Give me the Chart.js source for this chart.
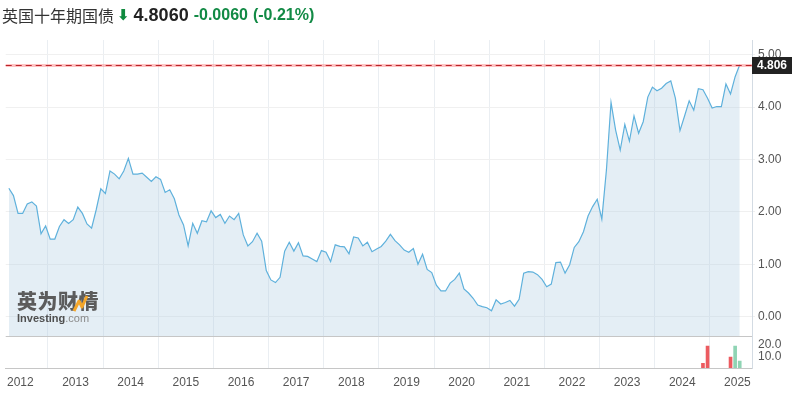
<!DOCTYPE html>
<html lang="zh-CN">
<head>
<meta charset="utf-8">
<title>英国十年期国债</title>
<script src="https://cdn.jsdelivr.net/npm/chart.js@4.4.1/dist/chart.umd.min.js"></script>
<style>
    html, body { margin: 0; padding: 0; background: #fff; }
    body { width: 792px; height: 396px; position: relative; overflow: hidden; }
    #chart { position: absolute; left: 0; top: 0; }
    .header {
        position: absolute; left: 2px; top: 3px; height: 22px; line-height: 22px;
        white-space: nowrap; font-family: 'Liberation Sans', Arial, sans-serif;
    }
    .header span { display: inline-block; vertical-align: middle; }
    .name { font-family: 'Noto Sans CJK SC', sans-serif; font-size: 16px; color: #333; }
    .arrow { font-family: 'DejaVu Sans', sans-serif; font-size: 15px; font-weight: bold; color: #0f8a3e; margin-left: 3px; }
    .last { font-size: 18px; font-weight: bold; color: #222; margin-left: 4px; }
    .chg { font-size: 16px; font-weight: bold; color: #128a45; margin-left: 5px; }
    .logo { position: absolute; left: 17px; top: 290px; pointer-events: none; }
    .logo .cn { font-family: 'Noto Sans CJK SC', sans-serif; font-weight: 900; font-size: 20px; color: #5c5c5c; letter-spacing: 0.5px; line-height: 22px; }
    .logo .en { font-family: 'Liberation Sans', Arial, sans-serif; font-size: 11px; line-height: 12px; color: #555; }
    .logo .en b { color: #4f4f4f; }
    .logo .en i { font-style: normal; color: #8a8a8a; }
    .logo svg { position: absolute; left: 0; top: 0; }
</style>
</head>
<body>
<canvas id="chart" width="792" height="396"></canvas>
<div class="header">
    <span class="name">英国十年期国债</span><span class="arrow">⬇</span><span class="last">4.8060</span><span class="chg">-0.0060</span><span class="chg">(-0.21%)</span>
</div>
<div class="logo">
    <div class="cn">英为财情</div>
    <div class="en"><b>Investing</b><i>.com</i></div>
    <svg width="100" height="30"><polyline points="57,21 62,11 65,17 70,6" fill="none" stroke="#f4a62a" stroke-width="3" stroke-linejoin="round"/></svg>
</div>
<script>
// monthly closes, first point Oct 2011
const startYear = 2011;
const startMonth = 10;
const yields = [
    2.45, 2.31, 1.97,
    1.97, 2.15, 2.19, 2.11, 1.58, 1.73, 1.48, 1.48, 1.72, 1.85, 1.78, 1.85,
    2.09, 1.97, 1.77, 1.69, 2.04, 2.44, 2.35, 2.78, 2.72, 2.63, 2.78, 3.02,
    2.72, 2.72, 2.74, 2.66, 2.58, 2.67, 2.62, 2.37, 2.42, 2.25, 1.94, 1.75,
    1.35, 1.78, 1.59, 1.83, 1.81, 2.02, 1.89, 1.95, 1.78, 1.92, 1.85, 1.97,
    1.56, 1.35, 1.43, 1.59, 1.44, 0.88, 0.70, 0.65, 0.75, 1.25, 1.42, 1.25,
    1.41, 1.16, 1.15, 1.10, 1.05, 1.26, 1.23, 1.05, 1.37, 1.34, 1.33, 1.20,
    1.52, 1.50, 1.35, 1.42, 1.24, 1.29, 1.34, 1.44, 1.57, 1.45, 1.37, 1.27,
    1.23, 1.30, 1.00, 1.19, 0.90, 0.84, 0.60, 0.49, 0.49, 0.64, 0.71, 0.83,
    0.53, 0.45, 0.35, 0.22, 0.19, 0.17, 0.11, 0.32, 0.24, 0.27, 0.31, 0.20,
    0.33, 0.83, 0.86, 0.85, 0.80, 0.71, 0.57, 0.62, 1.03, 1.04, 0.83, 0.99,
    1.32, 1.43, 1.62, 1.92, 2.10, 2.24, 1.86, 2.80, 4.09, 3.56, 3.18, 3.67,
    3.35, 3.83, 3.50, 3.72, 4.19, 4.38, 4.31, 4.36, 4.45, 4.50, 4.17, 3.55,
    3.83, 4.12, 3.94, 4.35, 4.33, 4.17, 3.98, 4.01, 4.01, 4.44, 4.25, 4.58,
    4.806
];
const volumeMonths = ['2024-05', '2024-06', '2024-11', '2024-12', '2025-01'];
const volumeValues = [4, 19, 9.5, 19, 6];
const lastPrice = 4.806;

const upColor = '#8fd4b4';
const downColor = '#ec5b60';

function monthToX(year, month) {
    return year + (month - 0.5) / 12;
}

const linePoints = yields.map((v, i) => {
    const m = startMonth - 1 + i;
    return { x: monthToX(startYear + Math.floor(m / 12), (m % 12) + 1), y: v };
});

const volumePoints = [];
const volumeColors = [];
volumeMonths.forEach((ym, k) => {
    const [yr, mo] = ym.split('-').map(Number);
    volumePoints.push({ x: monthToX(yr, mo), y: volumeValues[k] });
    const idx = (yr - startYear) * 12 + mo - startMonth;
    volumeColors.push(yields[idx] >= yields[idx - 1] ? upColor : downColor);
});

// separator between panes + last price line and tag
const overlay = {
    id: 'overlay',
    afterDraw(chart) {
        const { ctx, chartArea } = chart;
        const yScale = chart.scales.y;
        ctx.save();

        const sepY = Math.round(yScale.bottom) + 0.5;
        ctx.strokeStyle = '#c6c6c6';
        ctx.lineWidth = 1;
        ctx.beginPath();
        ctx.moveTo(chartArea.left, sepY);
        ctx.lineTo(chartArea.right, sepY);
        ctx.stroke();

        const py = Math.round(yScale.getPixelForValue(lastPrice)) + 0.5;
        ctx.strokeStyle = 'rgba(255, 120, 120, 0.45)';
        ctx.lineWidth = 3;
        ctx.beginPath();
        ctx.moveTo(chartArea.left, py);
        ctx.lineTo(chartArea.right, py);
        ctx.stroke();
        ctx.strokeStyle = '#b8232a';
        ctx.lineWidth = 1;
        ctx.setLineDash([6, 4]);
        ctx.beginPath();
        ctx.moveTo(chartArea.left, py);
        ctx.lineTo(chartArea.right, py);
        ctx.stroke();
        ctx.setLineDash([]);

        ctx.fillStyle = '#222';
        ctx.fillRect(chartArea.right, py - 8.5, 40, 17);
        ctx.fillStyle = '#fff';
        ctx.font = 'bold 12px "Liberation Sans", Arial, sans-serif';
        ctx.textAlign = 'left';
        ctx.textBaseline = 'middle';
        ctx.fillText(lastPrice.toFixed(3), chartArea.right + 5, py + 0.5);
        ctx.restore();
    }
};

const tickFont = { family: '"Liberation Sans", Arial, sans-serif', size: 12 };

new Chart(document.getElementById('chart'), {
    type: 'line',
    data: {
        datasets: [
            {
                type: 'line',
                data: linePoints,
                yAxisID: 'y',
                borderColor: '#5fb1dc',
                borderWidth: 1.2,
                backgroundColor: 'rgba(172, 203, 225, 0.33)',
                fill: 'start',
                pointRadius: 0,
                tension: 0
            },
            {
                type: 'bar',
                data: volumePoints,
                yAxisID: 'yv',
                backgroundColor: volumeColors,
                barThickness: 3
            }
        ]
    },
    options: {
        responsive: false,
        animation: false,
        layout: { padding: { top: 40, left: 0, right: 0, bottom: 0 } },
        plugins: { legend: { display: false }, tooltip: { enabled: false } },
        scales: {
            x: {
                type: 'linear',
                offset: false,
                min: 2011.735,
                max: 2025.264,
                ticks: {
                    stepSize: 1, includeBounds: false, autoSkip: false, maxRotation: 0,
                    padding: 7, color: '#555', font: tickFont,
                    callback: v => String(v)
                },
                grid: { color: '#eaeef2', drawTicks: false, tickLength: 0 },
                border: { color: '#c6c6c6' },
                afterFit: s => { s.height = 28; }
            },
            y: {
                position: 'right',
                stack: 'panes',
                stackWeight: 9.25,
                min: -0.37,
                max: 5.28,
                ticks: {
                    stepSize: 1, includeBounds: false, autoSkip: false, padding: 3,
                    color: '#555', font: tickFont,
                    callback: v => v.toFixed(2)
                },
                grid: { color: '#f0f0f0', tickLength: 3 },
                border: { color: '#d3dbe3' },
                afterFit: s => { s.width = 40; }
            },
            yv: {
                position: 'right',
                stack: 'panes',
                stackWeight: 1,
                min: 0,
                max: 27.6,
                ticks: {
                    stepSize: 10, includeBounds: false, autoSkip: false, padding: 3,
                    color: '#555', font: tickFont,
                    callback: v => (v === 0 ? '' : v.toFixed(1))
                },
                grid: { display: false, tickLength: 3 },
                border: { color: '#d3dbe3' },
                afterFit: s => { s.width = 40; }
            }
        }
    },
    plugins: [overlay]
});
</script>
</body>
</html>
